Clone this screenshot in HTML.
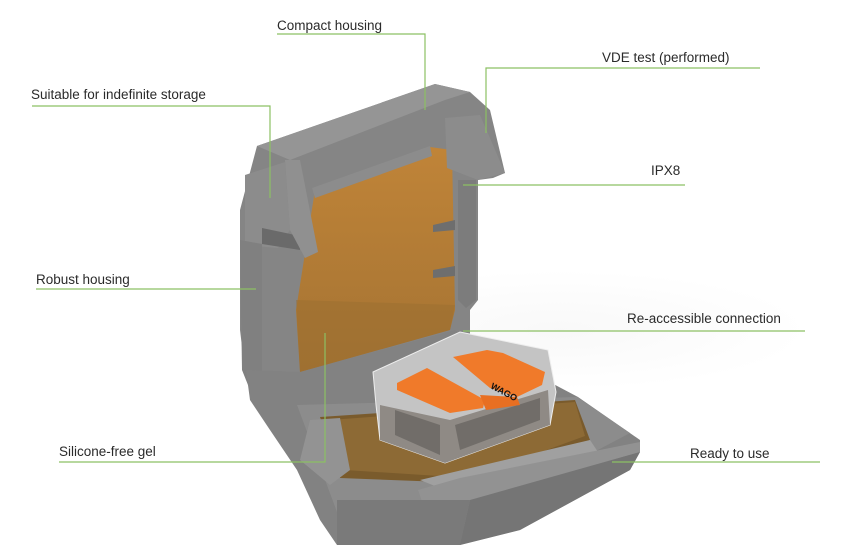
<!DOCTYPE html>
<html><head><meta charset="utf-8"><style>
html,body{margin:0;padding:0;background:#fff;width:860px;height:545px;overflow:hidden}
svg{display:block}
text{font-family:"Liberation Sans",sans-serif;font-size:13.5px;fill:#2a2a2a}
</style></head><body>
<svg width="860" height="545" viewBox="0 0 860 545">
<defs>
<linearGradient id="og" x1="0" y1="0" x2="0" y2="1"><stop offset="0" stop-color="#c08438"/><stop offset="1" stop-color="#a47333"/></linearGradient>
<radialGradient id="sh" cx="0.5" cy="0.5" r="0.5"><stop offset="0" stop-color="#f2f2f2"/><stop offset="1" stop-color="#fff"/></radialGradient>
</defs>
<ellipse cx="560" cy="330" rx="250" ry="60" fill="url(#sh)" opacity="0.5"/>
<!-- lid -->
<path d="M257,146 L435,84 L470,92 L490,110 L505,173 L493,178 L478,180 L478,300 L470,310 L470,372 L300,390 L246,380 L240,330 L240,210 Z" fill="#858585"/>
<path d="M257,146 L435,84 L470,92 L445,100 L290,160 Z" fill="#959595"/>
<!-- orange window -->
<path d="M315,190 L430,147 L452,150 L455,310 L450,330 L300,372 L296,310 Z" fill="url(#og)"/>
<path d="M312,188 L430,146 L432,156 L315,198 Z" fill="#8c8c8c"/>
<path d="M296,300 L455,305 L450,330 L300,372 Z" fill="#9a6e30" opacity="0.5"/>
<!-- lid front columns -->
<path d="M245,175 L285,162 L290,230 L278,248 L245,245 Z" fill="#8c8c8c"/>
<path d="M262,228 L300,236 L300,250 L262,244 Z" fill="#6a6a6a"/>
<path d="M285,160 L300,160 L318,252 L305,258 L290,230 Z" fill="#909090"/>
<path d="M445,118 L480,115 L505,173 L478,180 L447,168 Z" fill="#8c8c8c"/>
<path d="M458,180 L476,180 L476,300 L466,308 L458,300 Z" fill="#7c7c7c"/>
<path d="M433,225 L455,220 L455,230 L433,232 Z M433,270 L455,266 L455,276 L433,278 Z" fill="#6e6e6e"/>
<path d="M240,240 L262,244 L262,400 L250,390 L242,370 Z" fill="#808080"/>
<!-- base -->
<path d="M246,370 L300,372 L455,330 L470,340 L578,397 L640,440 L640,452 L630,470 L520,530 L460,545 L337,545 L320,520 L297,470 L270,430 L250,400 Z" fill="#828282"/>
<path d="M297,405 L577,397 L630,433 L560,470 L460,530 L340,520 Z" fill="#8c8c8c"/>
<path d="M320,417 L575,400 L590,440 L470,483 L340,478 Z" fill="#7a5b2c"/>
<path d="M330,420 L575,402 L585,436 L470,478 L345,470 Z" fill="#8d6a35"/>
<path d="M420,480 L590,440 L600,455 L470,500 Z" fill="#a0a0a0"/>
<path d="M310,420 L340,418 L350,470 L330,485 L300,460 Z" fill="#939393"/>
<path d="M418,490 L460,478 L640,442 L640,452 L470,502 L425,510 Z" fill="#929292"/>
<path d="M337,500 L470,500 L460,545 L337,545 Z" fill="#7a7a7a"/>
<path d="M470,500 L640,452 L630,470 L520,530 L460,545 Z" fill="#757575"/>
<!-- connector -->
<path d="M373,372 L460,332 L548,350 L556,392 L550,425 L445,463 L380,440 L376,405 Z" fill="#c4c4c4" stroke="#eee" stroke-width="1"/>
<path d="M380,405 L450,420 L548,390 L550,425 L445,463 L380,440 Z" fill="#8f8a85"/>
<path d="M395,410 L440,425 L440,455 L395,435 Z M455,425 L540,398 L540,420 L460,450 Z" fill="#5e5a56" opacity="0.6"/>
<path d="M397,383 L427,368 L485,400 L483,408 L450,413 L397,390 Z" fill="#f07a2a"/>
<path d="M453,357 L487,350 L503,353 L545,372 L542,385 L517,397 L490,388 Z" fill="#f07a2a"/>
<path d="M480,395 L517,397 L520,405 L486,410 Z" fill="#e86f22"/>
<text x="490" y="388" transform="rotate(28 490 388)" style="font-size:9px;font-weight:bold;fill:#111">WAGO</text>
<!-- labels -->
<g stroke="#8cc063" stroke-width="1.2" fill="none">
<path d="M277,34 H425 V110"/>
<path d="M32,106 H270 V198"/>
<path d="M36,289 H256"/>
<path d="M486,133 V68 H760"/>
<path d="M463,185 H685"/>
<path d="M463,331 H805"/>
<path d="M59,462 H325 V333"/>
<path d="M612,462 H820"/>
</g>
<text x="277" y="30">Compact housing</text>
<text x="31" y="99">Suitable for indefinite storage</text>
<text x="36" y="284">Robust housing</text>
<text x="602" y="62">VDE test (performed)</text>
<text x="651" y="175">IPX8</text>
<text x="627" y="323">Re-accessible connection</text>
<text x="59" y="456">Silicone-free gel</text>
<text x="690" y="458">Ready to use</text>
</svg>
</body></html>
